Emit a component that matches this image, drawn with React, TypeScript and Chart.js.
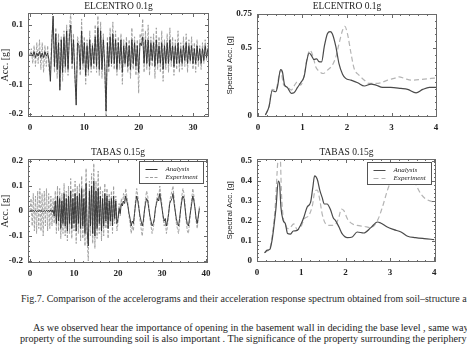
import React, { useEffect, useRef } from 'react';
import { Chart, registerables } from 'chart.js';
Chart.register(...registerables);

const SERIF = '"Liberation Serif", "Times New Roman", serif';
const SANS = '"Liberation Sans", Arial, sans-serif';

// ---------- Accelerograms (sample step in seconds) ----------
const ELC_DT = 0.25;
const ELC_ANALYSIS = [
  0.00, 0.005, -0.005, 0.01, -0.01, 0.005, -0.005, 0.01, -0.01, 0.005, -0.01, 0.01, -0.005, 0.005, -0.02, -0.09,
  0.03, 0.13, -0.04, 0.07, -0.05, 0.04, -0.12, 0.05, -0.06, 0.06, -0.04, 0.08, -0.05, 0.06, 0.10, -0.03,
  0.05, -0.06, -0.17, 0.04, 0.03, -0.05, 0.08, -0.03, 0.04, -0.07, 0.03, -0.05, 0.05, -0.04, 0.03, -0.03,
  0.06, -0.04, 0.09, -0.05, 0.08, -0.05, 0.05, -0.03, -0.19, 0.04, -0.04, 0.06, -0.03, 0.07, -0.03, 0.05,
  -0.05, 0.04, -0.03, 0.05, -0.06, 0.03, -0.03, 0.04, -0.04, 0.03, -0.05, 0.05, -0.03, 0.04, -0.04, 0.03,
  -0.06, 0.04, 0.03, 0.06, -0.03, 0.05, -0.03, 0.05, -0.04, 0.04, -0.02, 0.04, -0.04, 0.05, -0.03, 0.03,
  -0.03, 0.04, -0.05, 0.03, -0.03, 0.04, -0.03, 0.05, -0.02, 0.03, -0.04, 0.03, -0.03, 0.04, -0.03, 0.02,
  -0.03, 0.03, -0.02, 0.04, -0.03, 0.03, -0.02, 0.03, -0.03, 0.02, -0.03, 0.03, -0.02, 0.02, -0.03, 0.02,
  -0.02, 0.03, -0.01, 0.02, 0.00,
];
const ELC_EXPERIMENT = [
  0.00, 0.02, -0.03, 0.03, -0.04, 0.04, -0.03, 0.05, -0.05, 0.04, -0.06, 0.03, -0.04, 0.03, -0.05, -0.07,
  0.06, 0.12, -0.06, 0.09, -0.08, 0.07, -0.11, 0.06, -0.09, 0.08, -0.06, 0.10, -0.07, 0.09, 0.14, -0.05,
  0.07, -0.08, -0.15, 0.06, 0.04, -0.07, 0.12, -0.05, 0.06, -0.10, 0.05, -0.07, 0.08, -0.06, 0.04, -0.05,
  0.10, -0.06, 0.13, -0.07, 0.11, -0.08, 0.07, -0.05, -0.21, 0.06, -0.06, 0.09, -0.04, 0.11, -0.05, 0.08,
  -0.07, 0.06, -0.05, 0.07, -0.10, 0.05, -0.04, 0.06, -0.06, 0.05, -0.08, 0.09, -0.05, 0.06, -0.07, 0.05,
  -0.13, 0.07, 0.05, 0.12, -0.06, 0.08, -0.05, 0.10, -0.07, 0.06, -0.04, 0.07, -0.08, 0.09, -0.05, 0.06,
  -0.06, 0.08, -0.09, 0.05, -0.05, 0.07, -0.06, 0.09, -0.04, 0.06, -0.07, 0.05, -0.05, 0.08, -0.06, 0.04,
  -0.05, 0.06, -0.04, 0.07, -0.06, 0.05, -0.03, 0.06, -0.05, 0.04, -0.06, 0.05, -0.04, 0.03, -0.05, 0.04,
  -0.03, 0.05, -0.02, 0.03, 0.00,
];
const TAB_DT = 0.25;
const TAB_ANALYSIS = [
  0.00, 0.002, -0.002, 0.003, -0.002, 0.002, -0.003, 0.002, -0.002, 0.003, -0.002, 0.002, -0.003, 0.002, -0.002, 0.003,
  -0.002, 0.003, -0.003, 0.004, -0.004, 0.005, -0.02, 0.04, -0.05, 0.06, -0.04, 0.05, -0.07, 0.04, -0.05, 0.07,
  -0.06, 0.05, -0.08, 0.06, -0.05, 0.08, -0.07, 0.05, -0.05, 0.07, -0.08, 0.06, -0.05, 0.07, -0.07, 0.09,
  -0.06, 0.05, -0.09, 0.11, -0.08, -0.14, 0.08, -0.06, 0.10, -0.09, 0.12, -0.10, 0.08, -0.07, 0.09, -0.05,
  0.06, -0.08, 0.05, -0.06, 0.07, -0.04, 0.06, -0.07, 0.04, -0.04, 0.05, -0.06, 0.06, -0.03, 0.04, -0.05,
  -0.03, 0.01, -0.01, 0.03, 0.02, 0.04, 0.03, 0.06, 0.04, 0.02, -0.01, -0.03, -0.06, -0.04, -0.05, -0.01,
  0.03, 0.06, 0.04, 0.01, -0.02, -0.04, -0.06, -0.04, 0.00, 0.03, 0.05, 0.04, 0.01, -0.02, -0.04, -0.06,
  -0.05, -0.03, 0.01, 0.03, 0.05, 0.04, 0.07, 0.04, 0.01, -0.02, -0.04, -0.03, -0.06, -0.04, -0.01, 0.03,
  0.04, 0.05, 0.07, 0.03, 0.00, -0.03, -0.05, -0.06, -0.03, 0.01, 0.04, 0.06, 0.05, 0.01, -0.03, -0.05,
  -0.06, -0.03, 0.00, 0.03, 0.06, 0.04, 0.01, -0.03, -0.05, -0.02, 0.01,
];
const TAB_EXPERIMENT = [
  0.00, 0.05, -0.06, 0.07, -0.08, 0.06, -0.09, 0.08, -0.07, 0.09, -0.08, 0.07, -0.10, 0.08, -0.06, 0.09,
  -0.08, 0.07, -0.07, 0.06, -0.06, 0.05, -0.05, 0.08, -0.09, 0.10, -0.08, 0.09, -0.11, 0.07, -0.09, 0.11,
  -0.10, 0.08, -0.12, 0.10, -0.09, 0.13, -0.11, 0.09, -0.08, 0.12, -0.13, 0.10, -0.09, 0.11, -0.12, 0.14,
  -0.11, 0.09, -0.14, 0.17, -0.12, -0.20, 0.12, -0.10, 0.15, -0.13, 0.19, -0.15, 0.12, -0.11, 0.16, -0.09,
  0.10, -0.12, 0.08, -0.10, 0.11, -0.07, 0.09, -0.11, 0.07, -0.06, 0.08, -0.09, 0.10, -0.05, 0.06, -0.08,
  -0.05, 0.03, -0.02, 0.05, 0.02, 0.07, 0.04, 0.09, 0.06, 0.03, -0.02, -0.05, -0.09, -0.06, -0.08, -0.02,
  0.05, 0.09, 0.06, 0.02, -0.04, -0.07, -0.10, -0.06, 0.00, 0.05, 0.08, 0.06, 0.02, -0.03, -0.06, -0.09,
  -0.07, -0.04, 0.01, 0.04, 0.07, 0.05, 0.10, 0.06, 0.02, -0.03, -0.06, -0.04, -0.09, -0.06, -0.01, 0.04,
  0.06, 0.08, 0.10, 0.05, 0.00, -0.05, -0.07, -0.09, -0.05, 0.01, 0.06, 0.09, 0.07, 0.02, -0.04, -0.08,
  -0.09, -0.05, 0.00, 0.05, 0.09, 0.06, 0.01, -0.04, -0.07, -0.03, 0.02,
];

// ---------- Response spectra (period [s], spectral acc. [g]) ----------
const ELC_SPEC_AN_T = [0.17, 0.25, 0.32, 0.40, 0.44, 0.51, 0.55, 0.60, 0.66, 0.75, 0.81, 0.89, 0.96, 1.04, 1.10, 1.15, 1.20, 1.26, 1.32, 1.37, 1.43, 1.49, 1.56, 1.62, 1.67, 1.75, 1.82, 1.90, 1.97, 2.09, 2.24, 2.39, 2.54, 2.65, 2.80, 2.98, 3.21, 3.36, 3.55, 3.70, 3.85, 4.0];
const ELC_SPEC_AN = [0.007, 0.068, 0.185, 0.178, 0.215, 0.34, 0.325, 0.227, 0.21, 0.166, 0.17, 0.21, 0.244, 0.293, 0.41, 0.463, 0.446, 0.415, 0.42, 0.40, 0.398, 0.51, 0.605, 0.62, 0.605, 0.51, 0.385, 0.307, 0.276, 0.263, 0.244, 0.22, 0.234, 0.227, 0.21, 0.21, 0.202, 0.195, 0.17, 0.195, 0.21, 0.21];
const ELC_SPEC_EX_T = [0.17, 0.25, 0.32, 0.40, 0.51, 0.58, 0.66, 0.75, 0.81, 0.89, 0.96, 1.04, 1.11, 1.17, 1.23, 1.30, 1.37, 1.47, 1.56, 1.67, 1.75, 1.82, 1.90, 1.95, 2.01, 2.09, 2.16, 2.27, 2.39, 2.50, 2.61, 2.76, 2.91, 3.06, 3.17, 3.29, 3.44, 3.66, 3.89, 4.0];
const ELC_SPEC_EX = [0.007, 0.07, 0.195, 0.19, 0.335, 0.227, 0.215, 0.19, 0.22, 0.251, 0.227, 0.30, 0.434, 0.483, 0.446, 0.36, 0.33, 0.312, 0.337, 0.373, 0.434, 0.53, 0.63, 0.66, 0.605, 0.46, 0.349, 0.30, 0.263, 0.239, 0.239, 0.244, 0.263, 0.276, 0.288, 0.276, 0.263, 0.268, 0.276, 0.28];
const TAB_SPEC_AN_T = [0.17, 0.23, 0.29, 0.34, 0.38, 0.43, 0.48, 0.51, 0.54, 0.59, 0.64, 0.69, 0.75, 0.82, 0.91, 0.98, 1.06, 1.13, 1.21, 1.26, 1.30, 1.36, 1.42, 1.47, 1.52, 1.58, 1.66, 1.72, 1.77, 1.85, 1.92, 2.04, 2.15, 2.26, 2.41, 2.57, 2.72, 2.79, 2.94, 3.09, 3.25, 3.40, 3.58, 3.77, 4.0];
const TAB_SPEC_AN = [0.041, 0.054, 0.058, 0.104, 0.17, 0.269, 0.40, 0.385, 0.269, 0.203, 0.186, 0.137, 0.134, 0.15, 0.153, 0.178, 0.22, 0.269, 0.294, 0.368, 0.426, 0.409, 0.352, 0.318, 0.285, 0.285, 0.256, 0.216, 0.203, 0.17, 0.137, 0.117, 0.12, 0.145, 0.14, 0.167, 0.195, 0.19, 0.17, 0.157, 0.145, 0.124, 0.117, 0.112, 0.107];
const TAB_SPEC_EX_T = [0.17, 0.23, 0.29, 0.36, 0.41, 0.47, 0.50, 0.53, 0.55, 0.59, 0.64, 0.69, 0.75, 0.83, 0.91, 0.98, 1.07, 1.17, 1.25, 1.31, 1.36, 1.42, 1.47, 1.55, 1.66, 1.77, 1.85, 1.90, 1.96, 2.04, 2.15, 2.26, 2.42, 2.57, 2.72, 2.83, 2.94, 3.02, 3.09, 3.20, 3.32, 3.44, 3.55, 3.70, 3.81, 4.0];
const TAB_SPEC_EX = [0.041, 0.05, 0.063, 0.153, 0.269, 0.50, 0.56, 0.50, 0.35, 0.22, 0.183, 0.162, 0.167, 0.186, 0.157, 0.167, 0.211, 0.228, 0.277, 0.351, 0.355, 0.302, 0.236, 0.186, 0.178, 0.183, 0.22, 0.26, 0.252, 0.211, 0.186, 0.178, 0.173, 0.167, 0.203, 0.269, 0.351, 0.40, 0.434, 0.46, 0.47, 0.45, 0.40, 0.335, 0.31, 0.294];

// ---------- Labels & ticks ----------
const SERIES_LABELS = ['Analysis', 'Experiment'];
const TITLES = ['ELCENTRO 0.1g', 'ELCENTRO 0.1g', 'TABAS 0.15g', 'TABAS 0.15g'];
const Y_TITLES = ['Acc. [g]', 'Spectral Acc. [g]'];
const ELC_ACC_X_TICKS = [0, 10, 20, 30];
const TAB_ACC_X_TICKS = [0, 10, 20, 30, 40];
const ELC_ACC_Y_TICKS = [-0.2, -0.1, 0, 0.1];
const TAB_ACC_Y_TICKS = [-0.2, -0.1, 0, 0.1, 0.2];
const SPEC_X_TICKS = [0, 1, 2, 3, 4];
const ELC_SPEC_Y_TICKS = [0, 0.5, 0.75];
const TAB_SPEC_Y_TICKS = [0, 0.1, 0.2, 0.3, 0.4, 0.5];
const CAPTION = 'Fig.7. Comparison of the accelerograms and their acceleration response spectrum obtained from soil\u2013structure analysis and experiment';
const BODY_1 = 'As we observed hear the importance of opening in the basement wall in deciding the base level , same way the';
const BODY_2 = 'property of the surrounding soil is also important . The significance of the property surrounding the periphery';

const series = (vals: number[], dt: number) => vals.map((y, i) => ({ x: i * dt, y }));
const pairs = (xs: number[], ys: number[]) => xs.map((x, i) => ({ x, y: ys[i] }));

const framePlugin = {
  id: 'frame',
  afterDraw(chart: any, _args: any, opts: any) {
    const { ctx, chartArea: a, scales } = chart;
    const xs = scales.x, ys = scales.y;
    ctx.save();
    ctx.strokeStyle = '#6a6a6a';
    ctx.lineWidth = 1;
    ctx.strokeRect(Math.round(a.left) + 0.5, Math.round(a.top) + 0.5, Math.round(a.right - a.left) - 1, Math.round(a.bottom - a.top) - 1);
    ctx.beginPath();
    const near = (ticks: any[], v: number, s: number) => ticks.some((t) => Math.abs(t.value - v) < s / 10);
    for (let k = Math.ceil(xs.min / opts.minorX); k * opts.minorX <= xs.max + 1e-9; k++) {
      const v = k * opts.minorX;
      const px = Math.round(xs.getPixelForValue(v)) + 0.5;
      const len = near(xs.ticks, v, opts.minorX) ? 4 : 2;
      ctx.moveTo(px, a.bottom); ctx.lineTo(px, a.bottom - len);
      ctx.moveTo(px, a.top); ctx.lineTo(px, a.top + len);
    }
    for (let k = Math.ceil(ys.min / opts.minorY); k * opts.minorY <= ys.max + 1e-9; k++) {
      const v = k * opts.minorY;
      const py = Math.round(ys.getPixelForValue(v)) + 0.5;
      const len = near(ys.ticks, v, opts.minorY) ? 4 : 2;
      ctx.moveTo(a.left, py); ctx.lineTo(a.left + len, py);
      ctx.moveTo(a.right, py); ctx.lineTo(a.right - len, py);
    }
    ctx.stroke();
    // title
    ctx.fillStyle = '#222';
    ctx.font = `9.5px ${SERIF}`;
    ctx.textAlign = 'center';
    ctx.textBaseline = 'middle';
    ctx.fillText(opts.title, (a.left + a.right) / 2, opts.titleY);
    // legend
    if (opts.legend) {
      const w = 64, h = 22;
      const bx = Math.round(a.right - 5 - w) + 0.5, by = Math.round(a.top + opts.legendTop) + 0.5;
      ctx.fillStyle = '#fff';
      ctx.fillRect(bx, by, w, h);
      ctx.strokeStyle = '#555';
      ctx.strokeRect(bx, by, w, h);
      chart.data.datasets.forEach((ds: any, i: number) => {
        const ry = by + 8 + i * 8;
        ctx.beginPath();
        ctx.strokeStyle = ds.borderColor;
        ctx.lineWidth = 1;
        ctx.setLineDash(ds.borderDash || []);
        ctx.moveTo(bx + 6, ry); ctx.lineTo(bx + 18, ry);
        ctx.stroke();
        ctx.setLineDash([]);
        ctx.fillStyle = '#222';
        ctx.font = `italic 7px ${SERIF}`;
        ctx.textAlign = 'left';
        ctx.fillText(ds.label, bx + 26, ry);
      });
    }
    ctx.restore();
  },
};

type Panel = {
  left: number; top: number; w: number; h: number;
  yw: number; pr: number; pt: number; xh: number;
  xMin: number; xMax: number; yMin: number; yMax: number;
  xTicks: number[]; yTicks: number[]; minorX: number; minorY: number;
  title: string; titleY: number; yTitle: string; yTitleFont: any; yTitlePad: number;
  legend: boolean; legendTop: number; spec: boolean;
  an: { x: number; y: number }[]; ex: { x: number; y: number }[];
};

const tickFont = { family: SERIF, size: 9, weight: 'bold' as const };

function ChartPanel({ p }: { p: Panel }) {
  const ref = useRef<HTMLCanvasElement | null>(null);
  useEffect(() => {
    if (!ref.current) return;
    const chart = new Chart(ref.current, {
      type: 'line',
      data: {
        datasets: [
          {
            label: SERIES_LABELS[0], data: p.an, borderColor: p.spec ? '#4a4a4a' : '#2e2e2e',
            borderWidth: p.spec ? 1.2 : 0.9, pointRadius: 0, tension: 0,
            cubicInterpolationMode: p.spec ? 'monotone' : 'default', fill: false,
          },
          {
            label: SERIES_LABELS[1], data: p.ex, borderColor: p.spec ? '#b4b4b4' : '#9c9c9c',
            borderWidth: p.spec ? 1.2 : 0.9, borderDash: p.spec ? [5, 3] : [3, 1.5], pointRadius: 0, tension: 0,
            cubicInterpolationMode: p.spec ? 'monotone' : 'default', fill: false,
          },
        ],
      },
      options: {
        responsive: false,
        maintainAspectRatio: false,
        animation: false,
        events: [],
        layout: { padding: { left: 0, right: p.pr, top: p.pt, bottom: 0 } },
        plugins: {
          legend: { display: false },
          tooltip: { enabled: false },
          title: { display: false },
          frame: { minorX: p.minorX, minorY: p.minorY, title: p.title, titleY: p.titleY, legend: p.legend, legendTop: p.legendTop },
        } as any,
        scales: {
          x: {
            type: 'linear', min: p.xMin, max: p.xMax,
            grid: { display: false, drawTicks: false },
            border: { display: false },
            ticks: { font: tickFont, color: '#222', padding: 5, autoSkip: false, maxRotation: 0, callback: (v: any) => String(v) },
            afterBuildTicks: (s: any) => { s.ticks = p.xTicks.map((value) => ({ value })); },
            afterFit: (s: any) => { s.height = p.xh; },
          },
          y: {
            type: 'linear', min: p.yMin, max: p.yMax,
            grid: { display: false, drawTicks: false },
            border: { display: false },
            ticks: { font: tickFont, color: '#222', padding: 5, autoSkip: false, callback: (v: any) => String(v) },
            title: { display: true, text: p.yTitle, font: p.yTitleFont, color: '#222', padding: { top: p.yTitlePad, bottom: 0 } },
            afterBuildTicks: (s: any) => { s.ticks = p.yTicks.map((value) => ({ value })); },
            afterFit: (s: any) => { s.width = p.yw; },
          },
        } as any,
      },
      plugins: [framePlugin as any],
    } as any);
    return () => chart.destroy();
  }, [p]);
  return (
    <canvas
      ref={ref}
      width={p.w}
      height={p.h}
      style={{ position: 'absolute', left: p.left, top: p.top, width: p.w, height: p.h }}
    />
  );
}

const accTitleFont = { family: SERIF, size: 10, lineHeight: 1 };
const specTitleFont = { family: SANS, size: 8, lineHeight: 1 };

const PANELS: Panel[] = [
  {
    left: 0, top: 0, w: 234, h: 140, yw: 28, pr: 25, pt: 13, xh: 23,
    xMin: -0.37, xMax: 32.95, yMin: -0.21, yMax: 0.14, xTicks: ELC_ACC_X_TICKS, yTicks: ELC_ACC_Y_TICKS,
    minorX: 2, minorY: 0.02, title: TITLES[0], titleY: 6, yTitle: Y_TITLES[0], yTitleFont: accTitleFont, yTitlePad: 0,
    legend: false, legendTop: 2, spec: false, an: series(ELC_ANALYSIS, ELC_DT), ex: series(ELC_EXPERIMENT, ELC_DT),
  },
  {
    left: 224, top: 0, w: 243, h: 140, yw: 33, pr: 30, pt: 14, xh: 23,
    xMin: -0.02, xMax: 4.02, yMin: -0.008, yMax: 0.75, xTicks: SPEC_X_TICKS, yTicks: ELC_SPEC_Y_TICKS,
    minorX: 0.2, minorY: 0.05, title: TITLES[1], titleY: 6, yTitle: Y_TITLES[1], yTitleFont: specTitleFont, yTitlePad: 2,
    legend: false, legendTop: 2, spec: true, an: pairs(ELC_SPEC_AN_T, ELC_SPEC_AN), ex: pairs(ELC_SPEC_EX_T, ELC_SPEC_EX),
  },
  {
    left: 0, top: 140, w: 234, h: 145, yw: 28, pr: 26, pt: 19, xh: 22,
    xMin: -0.45, xMax: 40.45, yMin: -0.208, yMax: 0.208, xTicks: TAB_ACC_X_TICKS, yTicks: TAB_ACC_Y_TICKS,
    minorX: 2, minorY: 0.02, title: TITLES[2], titleY: 12, yTitle: Y_TITLES[0], yTitleFont: accTitleFont, yTitlePad: 0,
    legend: true, legendTop: 2, spec: false, an: series(TAB_ANALYSIS, TAB_DT), ex: series(TAB_EXPERIMENT, TAB_DT),
  },
  {
    left: 224, top: 140, w: 243, h: 145, yw: 33, pr: 31, pt: 19, xh: 23,
    xMin: 0, xMax: 4.04, yMin: -0.005, yMax: 0.51, xTicks: SPEC_X_TICKS, yTicks: TAB_SPEC_Y_TICKS,
    minorX: 0.2, minorY: 0.02, title: TITLES[3], titleY: 12, yTitle: Y_TITLES[1], yTitleFont: specTitleFont, yTitlePad: 2,
    legend: true, legendTop: 3, spec: true, an: pairs(TAB_SPEC_AN_T, TAB_SPEC_AN), ex: pairs(TAB_SPEC_EX_T, TAB_SPEC_EX),
  },
];

export default function App() {
  const textBase: React.CSSProperties = {
    position: 'absolute', whiteSpace: 'nowrap', fontFamily: SERIF, color: '#1e1e1e', lineHeight: '11px', margin: 0,
  };
  return (
    <div style={{ position: 'fixed', left: 0, top: 0, width: 467, height: 349, overflow: 'hidden', background: '#fff' }}>
      {PANELS.map((p, i) => <ChartPanel key={i} p={p} />)}
      <div style={{ ...textBase, left: 21, top: 293, fontSize: 9.95, color: '#2a2a2a' }}>{CAPTION}</div>
      <div style={{ ...textBase, left: 33, top: 322, fontSize: 10.2 }}>{BODY_1}</div>
      <div style={{ ...textBase, left: 20, top: 333, fontSize: 10.2 }}>{BODY_2}</div>
    </div>
  );
}
